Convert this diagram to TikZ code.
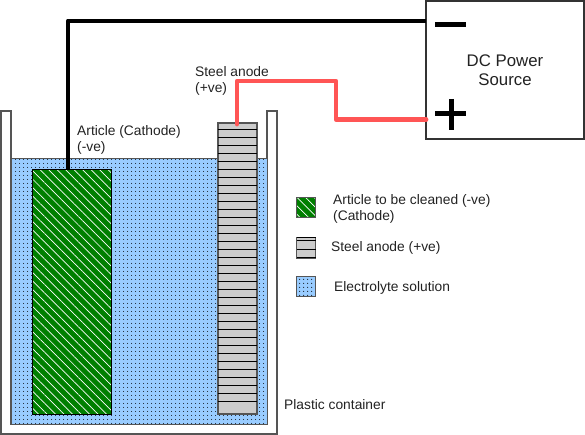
\documentclass[tikz,border=0pt]{standalone}
\usepackage{fontspec}
\setmainfont{Liberation Sans}
\usetikzlibrary{patterns.meta}
\definecolor{cgreen}{HTML}{007F00}
\definecolor{cblue}{HTML}{99CCFF}
\definecolor{cgrey}{HTML}{CCCCCC}
\definecolor{cred}{HTML}{FF5555}
\definecolor{cwall}{HTML}{555555}
\definecolor{ctext}{HTML}{222222}
\tikzset{
  every picture/.style={x=1pt, y=-1pt, font=\fontsize{13.8}{16}\selectfont, text=ctext},
  hatched/.style={rectangle, draw=black, line width=1pt, inner sep=0pt, outer sep=0pt, preaction={fill=cgreen}, pattern={Lines[angle=-45, distance=6pt, line width=0.7pt]}, pattern color=white},
  dotted fill/.style={rectangle, preaction={fill=cblue}, pattern={Dots[distance=4pt, radius=0.6pt]}, pattern color=black},
  steel/.style={rectangle, draw=cwall, line width=1.2pt, fill=cgrey, inner sep=0pt, outer sep=0pt},
  swatch/.style={minimum width=19.5pt, minimum height=20pt},
  label/.style={anchor=west, align=left, inner sep=0pt},
  wire/.style={line width=4.8pt, line cap=round, line join=round},
}

\begin{document}
\begin{tikzpicture}
  \useasboundingbox (0,0) rectangle (585,435);
  % container
  \draw[draw=cwall, line width=1.5pt, fill=white] (1,111) -- (1,434) -- (277,434) -- (277,111) -- (267,111) -- (267,424) -- (11,424) -- (11,111) -- cycle;
  \node[dotted fill, draw=cwall, line width=1pt, minimum width=256pt, minimum height=265pt, inner sep=0pt] (electrolyte) at (139,291.5) {};
  % article and anode
  \node[hatched, minimum width=79pt, minimum height=244pt] (article) at (71.5,292) {};
  \node[steel, minimum width=39pt, minimum height=291pt] (anode) at (237.5,268.5) {};
  \foreach \i in {0,...,34}
    \draw[black, line width=1pt] (218,129.5+8*\i) -- (257,129.5+8*\i);
  % power source
  \node[rectangle, draw=black!80, line width=1.2pt, minimum width=158pt, minimum height=138pt, align=center, outer sep=0pt, font=\fontsize{16.8}{19.5}\selectfont] (power) at (505,70) {DC Power\\Source};
  \coordinate (minus) at (426,21);
  \coordinate (plus) at (426,119.5);
  \coordinate (articleterm) at (68,170);
  \coordinate (anodeterm) at (237,124);
  \draw[wire, black, line cap=butt] (articleterm) -- (68,21) -- (minus);
  \draw[wire, cred] (anodeterm) -- (237,81) -- (336,81) -- (336,119.5) -- (plus);
  \draw[line width=5pt, black] (435,25) -- (466,25);
  \draw[line width=5pt, black] (435,114) -- (466,114) (451,99) -- (451,130);
  % labels
  \node[label] (anodelabel) at (195,80.5) {Steel anode\\(+ve)};
  \node[label] (articlelabel) at (77,140) {Article (Cathode)\\(-ve)};
  \node[label] (containerlabel) at (284,405) {Plastic container};
  % legend
  \node[hatched, draw=cwall, swatch] (keyarticle) at (306,208) {};
  \node[steel, swatch, minimum height=21pt] (keyanode) at (306,248) {};
  \draw[black, line width=1pt] (296.5,238) -- (315.5,238) (296.5,241) -- (315.5,241) (296.5,249) -- (315.5,249) (296.5,257) -- (315.5,257);
  \node[dotted fill, draw=cwall, line width=1pt, swatch, inner sep=0pt] (keyelectrolyte) at (306,286.5) {};
  \node[label] (keyarticletext) at (333,208.5) {Article to be cleaned (-ve)\\(Cathode)};
  \node[label] (keyanodetext) at (331,247.5) {Steel anode (+ve)};
  \node[label] (keyelectrolytetext) at (334,287.5) {Electrolyte solution};
\end{tikzpicture}
\end{document}
